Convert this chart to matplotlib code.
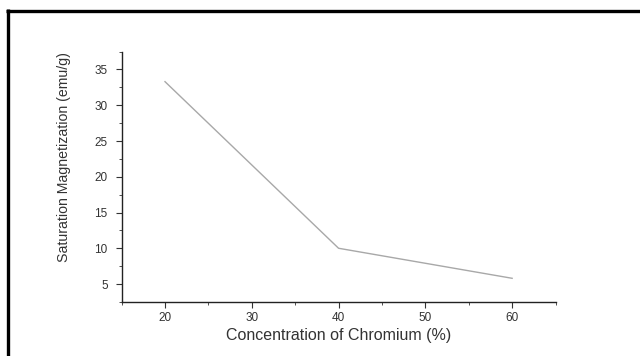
import matplotlib
matplotlib.use('Agg')
import matplotlib.pyplot as plt
from matplotlib.lines import Line2D
from matplotlib.ticker import MultipleLocator

# Datos
concentration = [20, 40, 60]
magnetization = [33.3, 10.0, 5.8]

plt.rcParams['font.family'] = ['Liberation Sans', 'DejaVu Sans']

fig = plt.figure(figsize=(6.4, 3.56), dpi=100)
ax = fig.add_axes([0.190, 0.152, 0.678, 0.703])

ax.plot(concentration, magnetization, color='#a8a8a8', linewidth=1.0)

ax.set_xlim(15, 65)
ax.set_ylim(2.5, 37.5)
ax.xaxis.set_major_locator(MultipleLocator(10))
ax.xaxis.set_minor_locator(MultipleLocator(5))
ax.yaxis.set_major_locator(MultipleLocator(5))
ax.yaxis.set_minor_locator(MultipleLocator(2.5))

ax.tick_params(which='major', direction='out', length=4, width=0.8,
               labelsize=8.5, labelcolor='#333333', color='#333333')
ax.tick_params(axis='y', which='major', pad=6)
ax.tick_params(axis='x', which='major', pad=3)
ax.tick_params(which='minor', direction='out', length=2, width=0.6, color='#333333')

for side in ['top', 'right']:
    ax.spines[side].set_visible(False)
for side in ['left', 'bottom']:
    ax.spines[side].set_linewidth(1.0)
    ax.spines[side].set_color('#222222')

ax.set_xlabel('Concentration of Chromium (%)', fontsize=11.5, color='#333333', labelpad=3)
ax.set_ylabel('Saturation Magnetization (emu/g)', fontsize=10.2, color='#333333')
ax.yaxis.set_label_coords(-0.116, 0.58)

# Marco negro (solo arriba e izquierda)
fig.add_artist(Line2D([6 / 640, 1], [1 - 10.5 / 356, 1 - 10.5 / 356],
                      color='black', linewidth=2.4, solid_capstyle='butt',
                      transform=fig.transFigure))
fig.add_artist(Line2D([7.5 / 640, 7.5 / 640], [0, 1 - 9 / 356],
                      color='black', linewidth=2.4, solid_capstyle='butt',
                      transform=fig.transFigure))

fig.savefig('out.png', dpi=100)
plt.close(fig)
